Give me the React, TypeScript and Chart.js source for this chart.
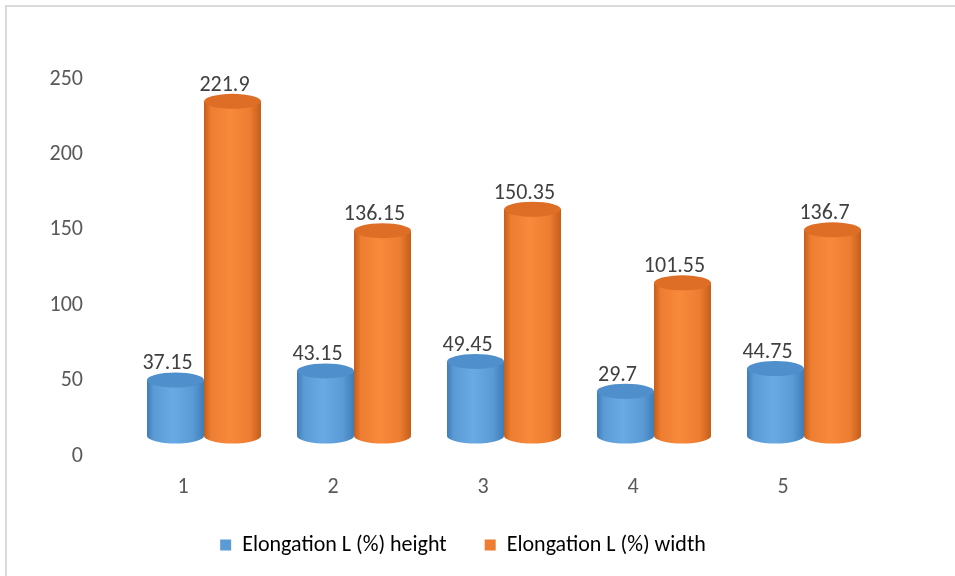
import React, { useEffect, useRef } from "react";
import { Chart, registerables } from "chart.js";

Chart.register(...registerables);

const categories = ["1", "2", "3", "4", "5"];
const heightValues = [37.15, 43.15, 49.45, 29.7, 44.75];
const widthValues = [221.9, 136.15, 150.35, 101.55, 136.7];
const seriesNames = ["Elongation L (%) height", "Elongation L (%) width"];
const seriesColors = ["#5B9BD5", "#ED7D31"];
const edgeColors = ["#3F7DB8", "#C45E1A"];
const lightColors = ["#6AAAE4", "#F88A3C"];
const topColors = ["#4E8FCC", "#DE6E25"];

const FONT = "Carlito, Calibri, Lato, 'Open Sans', sans-serif";
const FS = 22;
const DX = 21;
const DY = -20;
const RY = 7.5;
const LEGEND_SHIFT = 34;

const cylinderPlugin = {
  id: "cylinders",
  afterLayout(chart: any) {
    const lg = chart.legend;
    if (lg) {
      lg.left += LEGEND_SHIFT;
      lg.right += LEGEND_SHIFT;
    }
  },
  afterDatasetsDraw(chart: any) {
    const ctx = chart.ctx;
    chart.data.datasets.forEach((ds: any, di: number) => {
      const meta = chart.getDatasetMeta(di);
      meta.data.forEach((el: any, i: number) => {
        const p = el.getProps(["x", "y", "base", "width"], true);
        const cx = p.x + DX;
        const rx = p.width / 2;
        const top = p.y + DY;
        const bot = p.base + DY;
        const g = ctx.createLinearGradient(cx - rx, 0, cx + rx, 0);
        g.addColorStop(0, edgeColors[di]);
        g.addColorStop(0.12, seriesColors[di]);
        g.addColorStop(0.45, lightColors[di]);
        g.addColorStop(0.8, seriesColors[di]);
        g.addColorStop(1, edgeColors[di]);
        ctx.save();
        ctx.beginPath();
        ctx.moveTo(cx - rx, top);
        ctx.lineTo(cx - rx, bot);
        ctx.ellipse(cx, bot, rx, RY, 0, Math.PI, 0, true);
        ctx.lineTo(cx + rx, top);
        ctx.closePath();
        ctx.fillStyle = g;
        ctx.fill();
        ctx.beginPath();
        ctx.ellipse(cx, top, rx, RY, 0, 0, Math.PI * 2);
        ctx.fillStyle = topColors[di];
        ctx.fill();
        ctx.fillStyle = "#404040";
        ctx.font = FS + "px " + FONT;
        ctx.textAlign = "center";
        ctx.textBaseline = "alphabetic";
        ctx.fillText(String(ds.data[i]), cx - 8, top - RY - 3);
        ctx.restore();
      });
    });
  },
};

export default function App() {
  const ref = useRef<HTMLCanvasElement>(null);
  useEffect(() => {
    if (!ref.current) return;
    const chart = new Chart(ref.current, {
      type: "bar",
      data: {
        labels: categories,
        datasets: [
          { label: seriesNames[0], data: heightValues, backgroundColor: "rgba(0,0,0,0)", borderWidth: 0 },
          { label: seriesNames[1], data: widthValues, backgroundColor: "rgba(0,0,0,0)", borderWidth: 0 },
        ],
      },
      options: {
        animation: false,
        responsive: false,
        maintainAspectRatio: false,
        layout: { padding: { top: 79, right: 97, bottom: 10, left: 0 } },
        datasets: { bar: { categoryPercentage: 0.76, barPercentage: 1 } },
        scales: {
          x: {
            grid: { display: false, drawTicks: false },
            border: { display: false },
            ticks: { color: "#595959", font: { size: FS, family: FONT }, padding: 18 },
            afterFit: (s: any) => { s.height = 40; },
          },
          y: {
            min: 0,
            max: 250,
            grid: { display: false, drawTicks: false },
            border: { display: false },
            ticks: { stepSize: 50, color: "#595959", font: { size: FS, family: FONT }, padding: 25 },
            afterFit: (s: any) => { s.width = 108; },
          },
        },
        plugins: {
          tooltip: { enabled: false },
          legend: {
            position: "bottom",
            labels: {
              color: "#595959",
              font: { size: FS, family: FONT },
              boxWidth: 11,
              boxHeight: 11,
              padding: 38,
              generateLabels: () =>
                seriesNames.map((n, i) => ({
                  text: n,
                  fillStyle: seriesColors[i],
                  strokeStyle: seriesColors[i],
                  lineWidth: 0,
                  datasetIndex: i,
                })),
            },
          },
        },
      },
      plugins: [cylinderPlugin],
    });
    return () => chart.destroy();
  }, []);
  return (
    <div style={{ position: "fixed", left: 0, top: 0, width: 955, height: 576, background: "#fff" }}>
      <div style={{ position: "absolute", left: 5, top: 5, right: 0, bottom: 0, borderTop: "2px solid #D9D9D9", borderLeft: "2px solid #D9D9D9" }} />
      <canvas ref={ref} width={955} height={576} style={{ position: "absolute", left: 0, top: 0 }} />
    </div>
  );
}
